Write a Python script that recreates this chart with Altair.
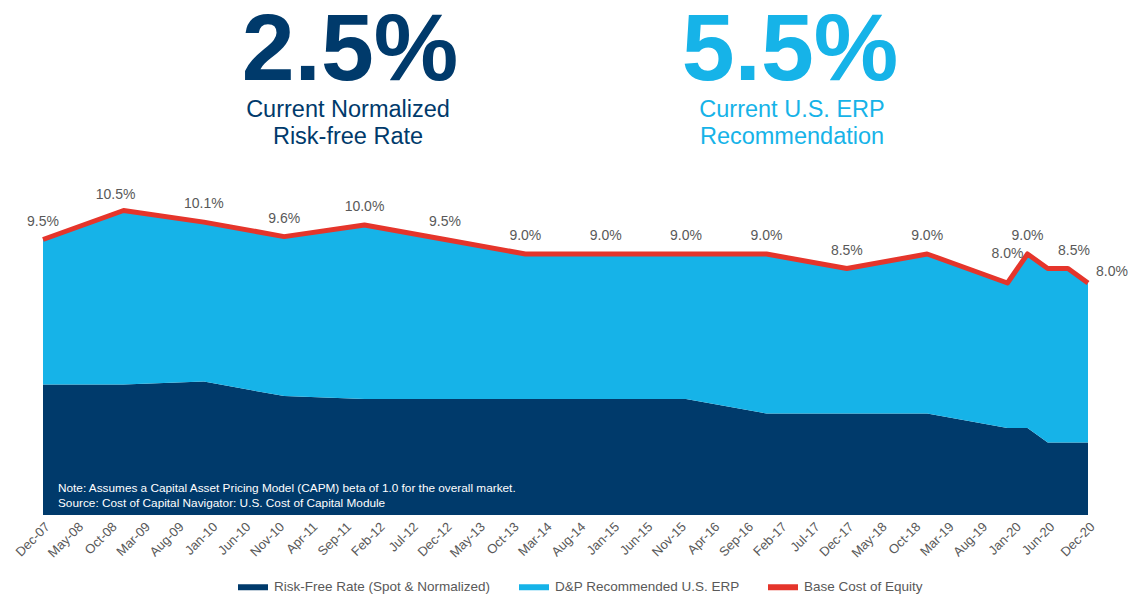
import altair as alt
import pandas as pd
from datetime import datetime, timezone

# ---- data ----
dates = ["2007-12-01", "2008-12-01", "2009-12-01", "2010-12-01", "2011-12-01",
         "2012-12-01", "2013-12-01", "2014-12-01", "2015-12-01", "2016-12-01",
         "2017-12-01", "2018-12-01", "2019-12-01", "2020-03-01", "2020-06-01",
         "2020-09-01", "2020-12-01"]
risk_free = [4.5, 4.5, 4.6, 4.1, 4.0, 4.0, 4.0, 4.0, 4.0, 3.5, 3.5, 3.5, 3.0, 3.0, 2.5, 2.5, 2.5]
erp = [5.0, 6.0, 5.5, 5.5, 6.0, 5.5, 5.0, 5.0, 5.0, 5.5, 5.0, 5.5, 5.0, 6.0, 6.0, 6.0, 5.5]
cost_of_equity = [9.5, 10.5, 10.1, 9.6, 10.0, 9.5, 9.0, 9.0, 9.0, 9.0, 8.5, 9.0, 8.0, 9.0, 8.5, 8.5, 8.0]
coe_labels = ["9.5%", "10.5%", "10.1%", "9.6%", "10.0%", "9.5%", "9.0%", "9.0%", "9.0%", "9.0%",
              "8.5%", "9.0%", "8.0%", "9.0%", "", "8.5%", "8.0%"]

tick_labels = ["Dec-07", "May-08", "Oct-08", "Mar-09", "Aug-09", "Jan-10", "Jun-10", "Nov-10",
               "Apr-11", "Sep-11", "Feb-12", "Jul-12", "Dec-12", "May-13", "Oct-13", "Mar-14",
               "Aug-14", "Jan-15", "Jun-15", "Nov-15", "Apr-16", "Sep-16", "Feb-17", "Jul-17",
               "Dec-17", "May-18", "Oct-18", "Mar-19", "Aug-19", "Jan-20", "Jun-20", "Dec-20"]

series_names = ["Risk-Free Rate (Spot & Normalized)", "D&P Recommended U.S. ERP", "Base Cost of Equity"]
series_colors = ["#003a6b", "#16b3e8", "#e5352b"]

headline_rf = "2.5%"
headline_rf_text = ["Current Normalized", "Risk-free Rate"]
headline_erp = "5.5%"
headline_erp_text = ["Current U.S. ERP", "Recommendation"]
note_lines = ["Note: Assumes a Capital Asset Pricing Model (CAPM) beta of 1.0 for the overall market.",
              "Source: Cost of Capital Navigator: U.S. Cost of Capital Module"]

# ---- tables ----
MONTHS = ["Jan", "Feb", "Mar", "Apr", "May", "Jun", "Jul", "Aug", "Sep", "Oct", "Nov", "Dec"]


def ms(year, month):
    return int(datetime(year, month, 1, tzinfo=timezone.utc).timestamp() * 1000)


tick_values = [ms(2000 + int(t[-2:]), MONTHS.index(t[:3]) + 1) for t in tick_labels]

area_rows = []
for d, r, e in zip(dates, risk_free, erp):
    area_rows.append({"date": d, "series": series_names[0], "value": r, "ord": 0})
    area_rows.append({"date": d, "series": series_names[1], "value": e, "ord": 1})
area_df = pd.DataFrame(area_rows)
line_df = pd.DataFrame({"date": dates, "coe": cost_of_equity, "label": coe_labels})

FONT = "Liberation Sans"
GREY = "#595959"
W, H = 1045, 515
PX_PER_PCT = 29.0

x_enc = alt.X(
    "date:T",
    scale=alt.Scale(type="utc", nice=False, domain=[tick_values[0], tick_values[-1]]),
    axis=alt.Axis(values=tick_values, labelExpr="utcFormat(datum.value, '%b-%y')",
                  labelAngle=-45, labelAlign="right", labelBaseline="top",
                  labelFont=FONT, labelFontSize=13, labelColor=GREY, domain=False,
                  ticks=False, grid=False, labelPadding=5, title=None, labelOverlap=False,
                  labelBound=False, labelFlush=False),
)
y_scale = alt.Scale(domain=[0, H / PX_PER_PCT], nice=False, zero=True)

areas = alt.Chart(area_df).mark_area(interpolate="linear").encode(
    x=x_enc,
    y=alt.Y("value:Q", stack="zero", scale=y_scale, axis=None),
    color=alt.Color(
        "series:N",
        scale=alt.Scale(domain=series_names, range=series_colors),
        legend=alt.Legend(
            orient="none", direction="horizontal", legendX=195, legendY=572, title=None,
            symbolType="M-1,-0.2H1V0.2H-1Z", symbolSize=900, symbolStrokeWidth=0,
            labelFont=FONT, labelFontSize=13.5, labelColor=GREY, labelOffset=6,
            labelLimit=0, columnPadding=28,
        ),
    ),
    order=alt.Order("ord:Q", sort="ascending"),
)

line = alt.Chart(line_df).mark_line(color=series_colors[2], strokeWidth=5,
                                    strokeJoin="round").encode(
    x=x_enc,
    y=alt.Y("coe:Q", scale=y_scale, axis=None),
)

lbl_base = alt.Chart(line_df).encode(
    x=x_enc, y=alt.Y("coe:Q", scale=y_scale, axis=None), text="label:N"
)
lbl_style = dict(font=FONT, fontSize=14, color=GREY, baseline="middle")
YM = "utcFormat(toDate(datum.date), '%Y-%m')"
special = ["2008-12", "2019-12", "2020-09", "2020-12"]
labels_main = lbl_base.transform_filter(
    " && ".join(f"{YM} != '{s}'" for s in special)
).mark_text(dy=-18, **lbl_style)
labels_dec08 = lbl_base.transform_filter(f"{YM} == '2008-12'").mark_text(dx=-8, dy=-16, **lbl_style)
labels_dec19 = lbl_base.transform_filter(f"{YM} == '2019-12'").mark_text(dy=-29, **lbl_style)
labels_sep20 = lbl_base.transform_filter(f"{YM} == '2020-09'").mark_text(dx=6, dy=-18, **lbl_style)
labels_end = lbl_base.transform_filter(f"{YM} == '2020-12'").mark_text(dx=24, dy=-11, **lbl_style)


def text_layer(txt, xpix, ypix, size, color, bold=False, align="center", line_h=None):
    kw = dict(font=FONT, fontSize=size, color=color, align=align, baseline="alphabetic")
    if bold:
        kw["fontWeight"] = "bold"
    if line_h:
        kw["lineHeight"] = line_h
    return alt.Chart(pd.DataFrame({"k": [0]})).mark_text(**kw).encode(
        x=alt.value(xpix), y=alt.value(ypix), text=alt.value(txt))


L = 43
titles = [
    text_layer(headline_rf, 350 - L, 80, 95, series_colors[0], bold=True),
    text_layer(headline_rf_text, 348 - L, 117, 23.5, series_colors[0], line_h=27),
    text_layer(headline_erp, 790 - L, 80, 95, series_colors[1], bold=True),
    text_layer(headline_erp_text, 792 - L, 117, 23.5, series_colors[1], line_h=27),
    text_layer(note_lines, 58 - L, 492, 11.8, "#ffffff", align="left", line_h=15),
]

chart = alt.layer(areas, line, labels_main, labels_dec08, labels_dec19, labels_sep20,
                  labels_end, *titles).properties(
    width=W, height=H,
    background="#ffffff",
    autosize=alt.AutoSizeParams(type="none"),
    padding={"left": L, "top": 0, "right": 1129 - L - W, "bottom": 596 - H},
).configure_view(strokeWidth=0, stroke="transparent")

chart.save("out.html", embed_options={"renderer": "svg", "actions": False})
